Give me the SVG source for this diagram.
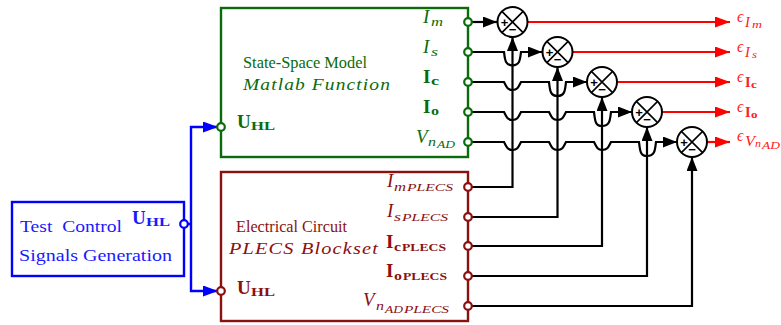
<svg xmlns="http://www.w3.org/2000/svg" width="781" height="325" viewBox="0 0 781 325">
<style>
text{font-family:"Liberation Serif","DejaVu Serif",serif}
.g{fill:#0b6b0b}.r{fill:#8b1010}.b{fill:#1a1aff}.e{fill:#ff2020}
.i{font-style:italic;letter-spacing:1px}.n{font-size:17.500px}
.M{font-size:19px;font-style:italic}
.B{font-weight:bold;font-size:19px}
.s{font-size:12px;font-style:italic}
.sb{font-size:13px;font-weight:bold}
.ss{font-size:10px;font-style:italic}
.ssb{font-size:10.500px;font-weight:bold}
.box{fill:none;stroke-width:2.400}
.pt{fill:#fff;stroke-width:2.200}
.w{fill:none;stroke:#000;stroke-width:2.200}
.wr{fill:none;stroke:#f00;stroke-width:2.200}
.wb{fill:none;stroke:#00f;stroke-width:2.400}
.sum circle{fill:#fff;stroke:#000;stroke-width:2}
.sum path{fill:none;stroke:#000;stroke-width:1.600}
.pm{font-family:"Liberation Sans",sans-serif;font-size:13px;font-weight:bold;fill:#000;text-anchor:middle}
.ep{font-size:16px;font-style:italic}
.es{font-size:14.500px;font-style:italic}
.ess{font-size:10px;font-style:italic}
.esb{font-size:14.500px;font-weight:bold}
.essb{font-size:10px;font-weight:bold}
</style>
<defs>
<marker id="ak" markerUnits="userSpaceOnUse" markerWidth="14" markerHeight="11" refX="14" refY="5.500" orient="auto"><path d="M0 0L14 5.500L0 11Z" fill="#000"/></marker>
<marker id="ar" markerUnits="userSpaceOnUse" markerWidth="15" markerHeight="11" refX="15" refY="5.500" orient="auto"><path d="M0 0L15 5.500L0 11Z" fill="#f00"/></marker>
<marker id="ab" markerUnits="userSpaceOnUse" markerWidth="15" markerHeight="11" refX="15" refY="5.500" orient="auto"><path d="M0 0L15 5.500L0 11Z" fill="#00f"/></marker>
<g id="sumg" class="sum"><circle r="15"/><path d="M-10.600 -10.600L10.600 10.600M-10.600 10.600L10.600 -10.600"/><text class="pm" x="-8" y="4.500">+</text><text class="pm" x="0" y="12">−</text></g>
</defs>

<g id="connectors">
<path class="wb" d="M184 224H191"/>
<path class="wb" d="M191 224V127H218" marker-end="url(#ab)"/>
<path class="wb" d="M191 224V291H218" marker-end="url(#ab)"/>

<path class="w" d="M468 22H497" marker-end="url(#ak)"/>
<path class="w" d="M468 52H504C505 60 505 65 512.500 65.500C520 65 520 60 521 52H542" marker-end="url(#ak)"/>
<path class="w" d="M468 82H504C507 88 508 90 512.500 90C517 90 518 88 521 82H549C550 90 550 96 557.500 96C565 96 565 90 566 82H587" marker-end="url(#ak)"/>
<path class="w" d="M468 112H504C507 118 508 120 512.500 120C517 120 518 118 521 112H549C552 118 553 120 557.500 120C562 120 563 118 566 112H594C595 120 595 126 602 126C610 126 610 120 611 112H632" marker-end="url(#ak)"/>
<path class="w" d="M468 142H504C507 148 508 150 512.500 150C517 150 518 148 521 142H549C552 148 553 150 557.500 150C562 150 563 148 566 142H594C597 148 598 150 602 150C607 150 608 148 611 142H639C640 150 640 156 647 156C655 156 655 150 656 142H677" marker-end="url(#ak)"/>

<path class="w" d="M468 187H512.500V37" marker-end="url(#ak)"/>
<path class="w" d="M468 217H557.500V67" marker-end="url(#ak)"/>
<path class="w" d="M468 246H602V97" marker-end="url(#ak)"/>
<path class="w" d="M468 276H647V127" marker-end="url(#ak)"/>
<path class="w" d="M468 306H692V157" marker-end="url(#ak)"/>

<path class="wr" d="M527 22H730" marker-end="url(#ar)"/>
<path class="wr" d="M572 52H730" marker-end="url(#ar)"/>
<path class="wr" d="M617 82H730" marker-end="url(#ar)"/>
<path class="wr" d="M662 112H730" marker-end="url(#ar)"/>
<path class="wr" d="M707 142H730" marker-end="url(#ar)"/>
</g>

<g id="sum1"><use href="#sumg" x="512.500" y="22"/></g>
<g id="sum2"><use href="#sumg" x="557.500" y="52"/></g>
<g id="sum3"><use href="#sumg" x="602" y="82"/></g>
<g id="sum4"><use href="#sumg" x="647" y="112"/></g>
<g id="sum5"><use href="#sumg" x="692" y="142"/></g>

<g id="state-space">
<rect class="box" x="221" y="8" width="247" height="149" stroke="#0b6b0b"/>
<text class="g n" x="243" y="68" textLength="124" lengthAdjust="spacingAndGlyphs">State-Space Model</text>
<text class="g n i" x="243" y="90" textLength="148" lengthAdjust="spacingAndGlyphs">Matlab  Function</text>
<text class="g B" x="237" y="128">U</text><text class="g sb" x="251" y="130" textLength="24" lengthAdjust="spacingAndGlyphs">HL</text>
<text class="g M" x="423" y="23">I</text><text class="g s" x="431" y="26" textLength="12" lengthAdjust="spacingAndGlyphs">m</text>
<text class="g M" x="423" y="53">I</text><text class="g s" x="431" y="56" textLength="7" lengthAdjust="spacingAndGlyphs">s</text>
<text class="g B" x="423" y="83">I</text><text class="g sb" x="431" y="85" textLength="8" lengthAdjust="spacingAndGlyphs">c</text>
<text class="g B" x="423" y="113">I</text><text class="g sb" x="431" y="115" textLength="8" lengthAdjust="spacingAndGlyphs">o</text>
<text class="g M" x="416" y="143">V</text><text class="g s" x="428" y="146" textLength="8" lengthAdjust="spacingAndGlyphs">n</text><text class="g ss" x="437" y="148" textLength="18" lengthAdjust="spacingAndGlyphs">AD</text>
<g stroke="#0b6b0b"><circle class="pt" cx="221" cy="127" r="3.800"/><circle class="pt" cx="468" cy="22" r="3.800"/><circle class="pt" cx="468" cy="52" r="3.800"/><circle class="pt" cx="468" cy="82" r="3.800"/><circle class="pt" cx="468" cy="112" r="3.800"/><circle class="pt" cx="468" cy="142" r="3.800"/></g>
</g>

<g id="electrical">
<rect class="box" x="221" y="172" width="247" height="149" stroke="#8b1010"/>
<text class="r n" x="236" y="232" textLength="111" lengthAdjust="spacingAndGlyphs">Electrical Circuit</text>
<text class="r n i" x="229" y="254" textLength="150" lengthAdjust="spacingAndGlyphs">PLECS  Blockset</text>
<text class="r B" x="237" y="294">U</text><text class="r sb" x="251" y="296" textLength="24" lengthAdjust="spacingAndGlyphs">HL</text>
<text class="r M" x="387" y="187">I</text><text class="r s" x="394" y="191" textLength="12" lengthAdjust="spacingAndGlyphs">m</text><text class="r ss" x="407" y="191" textLength="46" lengthAdjust="spacingAndGlyphs">PLECS</text>
<text class="r M" x="387" y="217">I</text><text class="r s" x="394" y="221" textLength="7" lengthAdjust="spacingAndGlyphs">s</text><text class="r ss" x="402" y="221" textLength="46" lengthAdjust="spacingAndGlyphs">PLECS</text>
<text class="r B" x="386" y="248">I</text><text class="r sb" x="394" y="251" textLength="7" lengthAdjust="spacingAndGlyphs">c</text><text class="r ssb" x="402" y="251" textLength="44" lengthAdjust="spacingAndGlyphs">PLECS</text>
<text class="r B" x="386" y="277">I</text><text class="r sb" x="394" y="280" textLength="8" lengthAdjust="spacingAndGlyphs">o</text><text class="r ssb" x="403" y="280" textLength="44" lengthAdjust="spacingAndGlyphs">PLECS</text>
<text class="r M" x="363" y="306">V</text><text class="r s" x="376" y="310" textLength="8" lengthAdjust="spacingAndGlyphs">n</text><text class="r ss" x="385" y="313" textLength="18" lengthAdjust="spacingAndGlyphs">AD</text><text class="r ss" x="404" y="313" textLength="45" lengthAdjust="spacingAndGlyphs">PLECS</text>
<g stroke="#8b1010"><circle class="pt" cx="221" cy="291" r="3.800"/><circle class="pt" cx="468" cy="187" r="3.800"/><circle class="pt" cx="468" cy="217" r="3.800"/><circle class="pt" cx="468" cy="246" r="3.800"/><circle class="pt" cx="468" cy="276" r="3.800"/><circle class="pt" cx="468" cy="306" r="3.800"/></g>
</g>

<g id="test-control">
<rect class="box" x="12" y="202" width="172" height="74" stroke="#00f"/>
<text class="b n" x="20" y="232" textLength="102" lengthAdjust="spacingAndGlyphs" xml:space="preserve">Test  Control</text>
<text class="b n" x="19" y="261" textLength="153" lengthAdjust="spacingAndGlyphs">Signals Generation</text>
<text class="b B" x="132" y="224">U</text><text class="b sb" x="146" y="226" textLength="24" lengthAdjust="spacingAndGlyphs">HL</text>
<circle class="pt" cx="184" cy="224" r="3.800" stroke="#00f"/>
</g>

<g id="errors" class="e">
<text class="ep" x="737" y="22">ϵ</text><text class="es" x="745" y="27">I</text><text class="ess" x="752" y="28" textLength="10" lengthAdjust="spacingAndGlyphs">m</text>
<text class="ep" x="737" y="52">ϵ</text><text class="es" x="745" y="57">I</text><text class="ess" x="752" y="58" textLength="5" lengthAdjust="spacingAndGlyphs">s</text>
<text class="ep" x="737" y="82">ϵ</text><text class="esb" x="745" y="87">I</text><text class="essb" x="751" y="88" textLength="6" lengthAdjust="spacingAndGlyphs">c</text>
<text class="ep" x="737" y="112">ϵ</text><text class="esb" x="745" y="117">I</text><text class="essb" x="751" y="118" textLength="6.500" lengthAdjust="spacingAndGlyphs">o</text>
<text class="ep" x="737" y="141">ϵ</text><text class="es" x="745" y="146" textLength="10" lengthAdjust="spacingAndGlyphs">V</text><text class="ess" x="755" y="147" textLength="6" lengthAdjust="spacingAndGlyphs">n</text><text class="ess" font-size="8" x="762" y="149" textLength="18" lengthAdjust="spacingAndGlyphs">AD</text>
</g>
</svg>
